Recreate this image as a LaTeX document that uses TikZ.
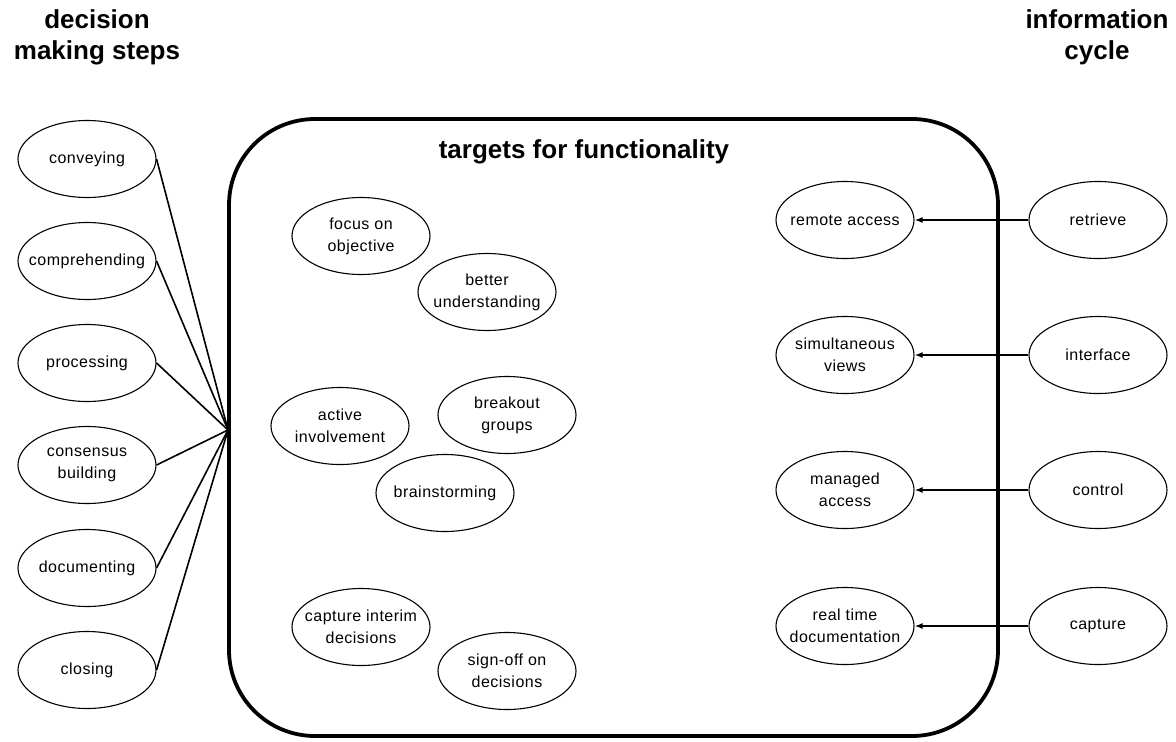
\documentclass[tikz,border=0pt]{standalone}
\usepackage{fontspec}
\setmainfont{Liberation Sans}
\usepackage{tikz}
\usetikzlibrary{arrows.meta, shapes.geometric}

\begin{document}
\begin{tikzpicture}[x=1pt, y=-1pt,
    step node/.style={ellipse, draw, line width=1.1pt, minimum width=138pt, minimum height=77pt, inner xsep=-14pt, inner ysep=0pt, align=center, font=\fontsize{16}{22}\selectfont\addfontfeatures{LetterSpace=3}},
    heading/.style={align=center, font=\bfseries\fontsize{26}{31}\selectfont},
    feed/.style={line width=1.6pt},
    flow/.style={line width=1.5pt, -{Latex[length=8pt, width=6pt]}}]
  \useasboundingbox (0,0) rectangle (1176,742);
  % Headings
  \node[heading] (dmhead) at (97,37) {decision\\making steps};
  \node[heading] (ichead) at (1097,37) {information\\cycle};
  % Targets box
  \draw[line width=3.8pt, rounded corners=86pt] (229,119) rectangle (998,736);
  \node[heading] (tghead) at (584,152) {targets for functionality};
  % Decision making steps
  \node[step node] (conv) at (87,159) {conveying};
  \node[step node] (comp) at (87,261) {comprehending};
  \node[step node] (proc) at (87,363) {processing};
  \node[step node] (cons) at (87,465) {consensus\\building};
  \node[step node] (docu) at (87,568) {documenting};
  \node[step node] (clos) at (87,670) {closing};
  \coordinate (hub) at (228,430);
  \foreach \s in {conv, comp, proc, cons, docu, clos}
    \draw[feed] (\s.east) -- (hub);
  % Targets
  \node[step node] (focus) at (361,236) {focus on\\objective};
  \node[step node] (under) at (487,292) {better\\understanding};
  \node[step node] (activ) at (340,426) {active\\involvement};
  \node[step node] (break) at (507,415) {breakout\\groups};
  \node[step node] (brain) at (445,493) {brainstorming};
  \node[step node] (inter) at (361,627) {capture interim\\decisions};
  \node[step node] (signo) at (507,671) {sign-off on\\decisions};
  % Information cycle
  \node[step node] (remo) at (845,220) {remote access};
  \node[step node] (simu) at (845,355) {simultaneous\\views};
  \node[step node] (mana) at (845,490) {managed\\access};
  \node[step node] (real) at (845,626) {real time\\documentation};
  \node[step node] (retr) at (1098,220) {retrieve};
  \node[step node] (intf) at (1098,355) {interface};
  \node[step node] (ctrl) at (1098,490) {control};
  \node[step node] (capt) at (1098,626) {capture};
  \draw[flow] (retr) -- (remo);
  \draw[flow] (intf) -- (simu);
  \draw[flow] (ctrl) -- (mana);
  \draw[flow] (capt) -- (real);
\end{tikzpicture}
\end{document}
